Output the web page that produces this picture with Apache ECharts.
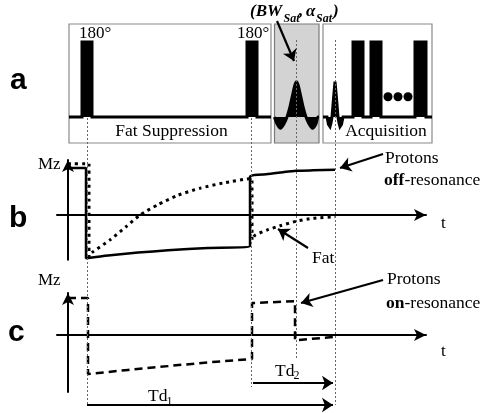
<!DOCTYPE html>
<html><head><meta charset="utf-8">
<script src="https://cdn.jsdelivr.net/npm/echarts@6/dist/echarts.min.js"></script>
<style>html,body{margin:0;padding:0;background:#fff}#c{width:482px;height:413px}</style>
</head><body><div id="c"></div>
<script>
// ---- data (time in arbitrary units, t = 0 at the Mz axis) ----
// event times: 180° pulse 1, 180° pulse 2, saturation pulse centre, excitation pulse centre
const eventTimes = [19, 183, 228.5, 267];
// RF amplitude (180° pulse = 1)
const rfFatSuppression = [[1,0],[14,0],[14,1],[24,1],[24,0],[179,0],[179,1],[189,1],[189,0],[203,0]];
const rfSaturation = [[206.5,0],[207,0],[209,-0.09],[212.5,-0.15],[216,-0.09],[219,0],[222,0.14],[225,0.32],[227,0.43],[228.5,0.47],[230,0.43],[232,0.32],[235,0.14],[238,0],[241,-0.09],[244.5,-0.15],[248,-0.09],[250,0],[251,0]];
const rfAcquisition = [[255,0],[259,0],[260.5,-0.1],[262,-0.13],[263,-0.08],[264,0],[265.5,0.25],[267,0.47],[268.5,0.25],[270,0],[271,-0.08],[272,-0.13],[273.5,-0.1],[275,0],[285,0],[285,1],[295,1],[295,0],[303,0],[303,1],[313,1],[313,0],[347,0],[347,1],[358,1],[358,0],[364,0]];
const acqEllipsis = [[320,0.27],[330,0.27],[340,0.27]];
// longitudinal magnetisation (M0 = 1)
const mzOffResonance = [[0,1.0],[18,1.0],[18,-0.92],[40,-0.86],[70,-0.80],[100,-0.75],[140,-0.70],[182,-0.66],[182,0.81],[200,0.87],[215,0.91],[228,0.94],[245,0.95],[267,0.96]];
const mzFat = [[0,1.09],[21,1.09],[21,-0.89],[24,-0.80],[42,-0.53],[58,-0.25],[72,0],[90,0.22],[110,0.42],[132,0.57],[155,0.68],[183,0.77],[184,0.77],[184,-0.53],[187,-0.43],[199,-0.32],[212,-0.23],[229,-0.13],[245,-0.07],[267,-0.04]];
const mzOnResonance = [[0,0.79],[20,0.79],[20,-0.83],[60,-0.74],[100,-0.66],[140,-0.58],[184,-0.51],[184,0.68],[227,0.72],[227,-0.11],[266,-0.04]];
// labels
const pulseLabel = '180°';
const segmentLabels = ['Fat Suppression', 'Acquisition'];
const panelLabels = ['a', 'b', 'c'];

// ---- chart ----
const SERIF = '"Liberation Serif","Times New Roman",serif';
const SANS = '"Liberation Sans",Arial,sans-serif';
const chart = echarts.init(document.getElementById('c'));

function axisX(gi, max, show) {
  return {gridIndex: gi, type: 'value', min: -11, max: max, show: true,
    axisLine: {show: show, onZero: true, symbol: ['none', 'arrow'], symbolSize: [9, 12], lineStyle: {color: '#000', width: 2}},
    axisTick: {show: false}, axisLabel: {show: false}, splitLine: {show: false}};
}
function axisY(gi, min, max, show, inverse) {
  return {gridIndex: gi, type: 'value', min: min, max: max, inverse: !!inverse, show: true,
    axisLine: {show: show, onZero: true, symbol: ['none', 'arrow'], symbolSize: [9, 12], lineStyle: {color: '#000', width: 2}},
    axisTick: {show: false}, axisLabel: {show: false}, splitLine: {show: false}};
}
function txt(x, y, text, font, align, extra) {
  const style = Object.assign({text: text, font: font, fill: '#000', textAlign: align || 'left', textVerticalAlign: 'middle', align: align || 'left', verticalAlign: 'middle'}, extra || {});
  return {type: 'text', x: x, y: y, z: 100, silent: true, style: style};
}
const lineBase = {type: 'line', symbol: 'none', silent: true, animation: false};
const guideStyle = {color: '#666', width: 1, type: [2, 2]};
const arrowStyle = {color: '#000', width: 2.2, type: 'solid'};

const option = {
  animation: false,
  backgroundColor: '#fff',
  grid: [
    {left: 57, width: 375, top: 19.5, height: 127.5, outerBoundsMode: 'none'},   // a
    {left: 57, width: 369, top: 160, height: 99.65, outerBoundsMode: 'none'},    // b
    {left: 57, width: 369, top: 293, height: 99, outerBoundsMode: 'none'},       // c
    {left: 57, width: 375, top: 0, height: 413, outerBoundsMode: 'none'}         // layout overlay
  ],
  xAxis: [axisX(0, 364, false), axisX(1, 358, true), axisX(2, 358, true), axisX(3, 364, false)],
  yAxis: [axisY(0, -0.4, 1.3, false), axisY(1, -0.95, 1.17, true), axisY(2, -1.21, 0.894, true), axisY(3, 0, 413, false, true)],
  series: [
    // boxes of the pulse-sequence diagram
    Object.assign({}, lineBase, {xAxisIndex: 3, yAxisIndex: 3, z: 1, data: [[0, 0]], lineStyle: {opacity: 0},
      markArea: {silent: true, label: {show: false},
        data: [
          [{coord: [1, 24], itemStyle: {color: 'rgba(0,0,0,0)', borderColor: '#8a8a8a', borderWidth: 1.2}}, {coord: [203, 143]}],
          [{coord: [206.5, 24], itemStyle: {color: '#d3d3d3', borderColor: '#7a7a7a', borderWidth: 1.2}}, {coord: [251, 143]}],
          [{coord: [255, 24], itemStyle: {color: 'rgba(0,0,0,0)', borderColor: '#8a8a8a', borderWidth: 1.2}}, {coord: [364, 143]}]
        ]}}),
    // dotted timing guides
    Object.assign({}, lineBase, {xAxisIndex: 3, yAxisIndex: 3, z: 2, data: [[0, 0]], lineStyle: {opacity: 0},
      markLine: {silent: true, symbol: ['none', 'none'], label: {show: false}, lineStyle: guideStyle,
        data: [
          [{coord: [eventTimes[0], 118]}, {coord: [eventTimes[0], 405]}],
          [{coord: [eventTimes[1], 118]}, {coord: [eventTimes[1], 387]}],
          [{coord: [eventTimes[2], 40]}, {coord: [eventTimes[2], 360]}],
          [{coord: [eventTimes[3], 40]}, {coord: [eventTimes[3], 405]}]
        ]}}),
    // RF waveforms (panel a)
    Object.assign({}, lineBase, {xAxisIndex: 0, yAxisIndex: 0, z: 3, data: rfFatSuppression,
      lineStyle: {color: '#000', width: 3, join: 'miter'}, areaStyle: {color: '#000', opacity: 1}}),
    Object.assign({}, lineBase, {xAxisIndex: 0, yAxisIndex: 0, z: 3, data: rfSaturation, smooth: 0.3,
      lineStyle: {color: '#000', width: 3}, areaStyle: {color: '#000', opacity: 1}}),
    Object.assign({}, lineBase, {xAxisIndex: 0, yAxisIndex: 0, z: 3, data: rfAcquisition,
      lineStyle: {color: '#000', width: 3, join: 'miter'}, areaStyle: {color: '#000', opacity: 1}}),
    {type: 'scatter', xAxisIndex: 0, yAxisIndex: 0, z: 3, silent: true, animation: false, symbolSize: 9,
      itemStyle: {color: '#000', opacity: 1}, data: acqEllipsis},
    // panel b
    Object.assign({}, lineBase, {xAxisIndex: 1, yAxisIndex: 1, z: 4, data: mzOffResonance, smooth: 0.2,
      lineStyle: {color: '#000', width: 2.5}}),
    Object.assign({}, lineBase, {xAxisIndex: 1, yAxisIndex: 1, z: 4, data: mzFat, smooth: 0.2,
      lineStyle: {color: '#000', width: 3, type: [3, 4]}}),
    // panel c
    Object.assign({}, lineBase, {xAxisIndex: 2, yAxisIndex: 2, z: 4, data: mzOnResonance,
      lineStyle: {color: '#000', width: 2.5, type: [8, 5]}}),
    // annotation arrows + durations
    Object.assign({}, lineBase, {xAxisIndex: 3, yAxisIndex: 3, z: 6, data: [[0, 0]], lineStyle: {opacity: 0},
      markLine: {silent: true, symbol: ['none', 'arrow'], symbolSize: 11, label: {show: false}, lineStyle: arrowStyle,
        data: [
          [{coord: [209, 21]}, {coord: [226, 61]}],
          [{coord: [315, 154]}, {coord: [272, 168]}],
          [{coord: [240, 248]}, {coord: [210, 229]}],
          [{coord: [315, 280]}, {coord: [233, 303]}],
          [{coord: [eventTimes[1] + 2, 383]}, {coord: [eventTimes[3] - 2, 383]}],
          [{coord: [eventTimes[0], 405]}, {coord: [eventTimes[3] - 2, 405]}]
        ]}})
  ],
  graphic: [
    txt(10, 80.7, panelLabels[0], 'bold 30px ' + SANS),
    txt(9, 218.7, panelLabels[1], 'bold 30px ' + SANS),
    txt(8, 332.7, panelLabels[2], 'bold 30px ' + SANS),
    txt(79, 33.3, pulseLabel, '17px ' + SERIF),
    txt(237, 33.3, pulseLabel, '17px ' + SERIF),
    txt(171.5, 131.8, segmentLabels[0], '17.5px ' + SERIF, 'center'),
    txt(386, 131.8, segmentLabels[1], '17.5px ' + SERIF, 'center'),
    txt(38, 164.8, 'Mz', '17px ' + SERIF),
    txt(38, 281, 'Mz', '17px ' + SERIF),
    txt(441, 224, 't', '17px ' + SERIF),
    txt(441, 352, 't', '17px ' + SERIF),
    txt(385, 158, 'Protons', '17.5px ' + SERIF),
    txt(384, 180, '{b|off}-resonance', '17.5px ' + SERIF, 'left', {rich: {b: {fontWeight: 'bold', fontFamily: SERIF, fontSize: 17.5}}}),
    txt(387, 279, 'Protons', '17.5px ' + SERIF),
    txt(386, 303, '{b|on}-resonance', '17.5px ' + SERIF, 'left', {rich: {b: {fontWeight: 'bold', fontFamily: SERIF, fontSize: 17.5}}}),
    txt(312, 258, 'Fat', '17.5px ' + SERIF),
    txt(275, 371, 'Td', '17.5px ' + SERIF),
    txt(293.5, 376, '2', '12px ' + SERIF),
    txt(148, 396.5, 'Td', '17.5px ' + SERIF),
    txt(166.5, 401.5, '1', '12px ' + SERIF),
    txt(250, 11.8, '(BW', 'italic bold 17px ' + SERIF),
    txt(283.5, 19.3, 'Sat', 'italic bold 12px ' + SERIF),
    txt(299, 11.8, ',', 'italic bold 17px ' + SERIF),
    txt(306, 11.8, 'α', 'italic bold 17px ' + SERIF),
    txt(316, 19.3, 'Sat', 'italic bold 12px ' + SERIF),
    txt(333, 11.8, ')', 'italic bold 17px ' + SERIF)
  ]
};
chart.setOption(option);
</script>
</body></html>
